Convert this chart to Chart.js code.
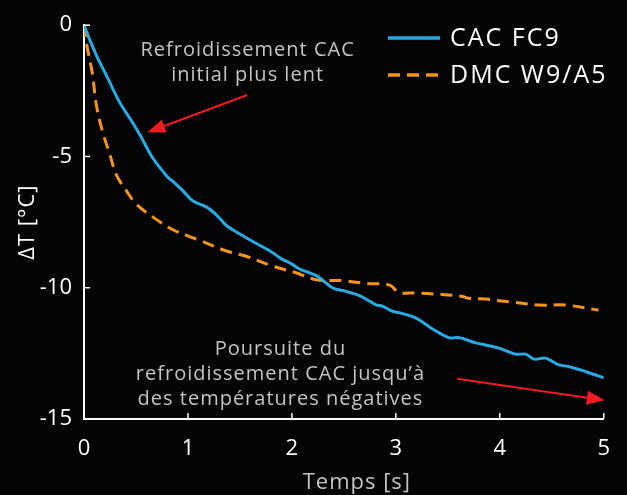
<!DOCTYPE html>
<html>
<head>
<meta charset="utf-8">
<script src="https://cdn.jsdelivr.net/npm/chart.js@4.4.1/dist/chart.umd.min.js"></script>
<style>
  html, body { margin: 0; padding: 0; background: #050508; }
  #wrap { width: 627px; height: 495px; }
</style>
</head>
<body>
<div id="wrap"><canvas id="coolChart" width="627" height="495"></canvas></div>
<script>
// Temps [s] et ΔT [°C]
const cacTime = [0, 0.06, 0.125, 0.22, 0.345, 0.45, 0.54, 0.66, 0.8, 0.855, 0.95, 1.05, 1.18, 1.28, 1.37, 1.5, 1.62, 1.79, 1.9, 2.0, 2.08, 2.24, 2.39, 2.52, 2.65, 2.81, 2.87, 2.97, 3.03, 3.19, 3.35, 3.51, 3.61, 3.77, 3.99, 4.15, 4.25, 4.33, 4.44, 4.57, 4.66, 4.83, 5.0];
const cacDelta = [0, -0.6, -1.2, -1.95, -2.95, -3.6, -4.19, -5.05, -5.76, -5.95, -6.3, -6.7, -6.93, -7.25, -7.63, -7.95, -8.23, -8.6, -8.9, -9.1, -9.3, -9.55, -10.0, -10.14, -10.3, -10.65, -10.7, -10.9, -10.95, -11.15, -11.56, -11.9, -11.9, -12.1, -12.3, -12.53, -12.53, -12.72, -12.68, -12.94, -13.0, -13.2, -13.43];

const dmcTime = [0, 0.03, 0.08, 0.12, 0.18, 0.25, 0.31, 0.41, 0.5, 0.66, 0.86, 1.11, 1.37, 1.56, 1.81, 2.04, 2.24, 2.49, 2.72, 2.94, 3.03, 3.19, 3.42, 3.64, 3.7, 3.87, 3.96, 4.12, 4.38, 4.63, 4.95];
const dmcDelta = [0, -0.82, -1.83, -3.07, -4.08, -4.94, -5.69, -6.32, -6.8, -7.3, -7.8, -8.19, -8.6, -8.8, -9.17, -9.43, -9.7, -9.73, -9.84, -9.9, -10.18, -10.2, -10.25, -10.33, -10.4, -10.43, -10.48, -10.55, -10.66, -10.66, -10.85];

const xTicks = [0, 1, 2, 3, 4, 5];
const yTicks = [0, -5, -10, -15];

const seriesNames = ['CAC FC9', 'DMC W9/A5'];
const seriesColors = ['#29abe2', '#f7941d'];

// annotations : texte + flèche, en coordonnées des données (y = ligne de base du 1er texte)
const notes = [
  { lines: ['Refroidissement CAC', 'initial plus lent'], x: 1.574, y: -1.16, arrowFrom: [1.57, -2.66], arrowTo: [0.61, -4.08] },
  { lines: ['Poursuite du', 'refroidissement CAC jusqu\u2019à', 'des températures négatives'], x: 1.89, y: -12.57, arrowFrom: [3.59, -13.47], arrowTo: [5.01, -14.29] }
];

const FONT = '"Open Sans", "Noto Sans", sans-serif';

function toPoints(xs, ys) {
  return xs.map((x, i) => ({ x: x, y: ys[i] }));
}

const overlay = {
  id: 'overlay',
  afterDraw(chart) {
    const ctx = chart.ctx;
    const xs = chart.scales.x;
    const ys = chart.scales.y;
    const area = chart.chartArea;

    // ticks vers l'intérieur
    ctx.save();
    ctx.strokeStyle = '#ffffff';
    ctx.lineWidth = 1.5;
    xTicks.forEach(t => {
      if (t === 0) return;
      const px = xs.getPixelForValue(t);
      ctx.beginPath();
      ctx.moveTo(px, area.bottom);
      ctx.lineTo(px, area.bottom - 6);
      ctx.stroke();
    });
    yTicks.forEach(t => {
      const py = ys.getPixelForValue(t);
      ctx.beginPath();
      ctx.moveTo(area.left, py);
      ctx.lineTo(area.left + 6, py);
      ctx.stroke();
    });
    ctx.restore();

    // titres des axes
    ctx.save();
    ctx.letterSpacing = '1px';
    ctx.font = '22px ' + FONT;
    ctx.textAlign = 'center';
    ctx.textBaseline = 'alphabetic';
    ctx.fillStyle = '#c4c4c4';
    ctx.fillText('Temps [s]', (area.left + area.right) / 2 + 13, 489);
    ctx.translate(28, (area.top + area.bottom) / 2);
    ctx.rotate(-Math.PI / 2);
    ctx.textBaseline = 'middle';
    ctx.fillStyle = '#ffffff';
    ctx.fillText('ΔT [°C]', 0, 0);
    ctx.restore();

    // annotations
    ctx.save();
    ctx.letterSpacing = '1px';
    ctx.font = '20px ' + FONT;
    ctx.textAlign = 'center';
    ctx.textBaseline = 'alphabetic';
    notes.forEach(n => {
      const cx = xs.getPixelForValue(n.x);
      const cy = ys.getPixelForValue(n.y);
      ctx.fillStyle = '#c4c4c4';
      n.lines.forEach((line, i) => ctx.fillText(line, cx, cy + i * 25));

      const x1 = xs.getPixelForValue(n.arrowFrom[0]);
      const y1 = ys.getPixelForValue(n.arrowFrom[1]);
      const x2 = xs.getPixelForValue(n.arrowTo[0]);
      const y2 = ys.getPixelForValue(n.arrowTo[1]);
      const ang = Math.atan2(y2 - y1, x2 - x1);
      const head = 18;
      const bx = x2 - head * Math.cos(ang);
      const by = y2 - head * Math.sin(ang);
      ctx.strokeStyle = '#ed1c24';
      ctx.fillStyle = '#ed1c24';
      ctx.lineWidth = 2;
      ctx.beginPath();
      ctx.moveTo(x1, y1);
      ctx.lineTo(bx, by);
      ctx.stroke();
      ctx.beginPath();
      ctx.moveTo(x2, y2);
      ctx.lineTo(bx + 7 * Math.sin(ang), by - 7 * Math.cos(ang));
      ctx.lineTo(bx - 7 * Math.sin(ang), by + 7 * Math.cos(ang));
      ctx.closePath();
      ctx.fill();
    });
    ctx.restore();

    // légende
    ctx.save();
    ctx.letterSpacing = '2px';
    ctx.font = '25px ' + FONT;
    ctx.textAlign = 'left';
    ctx.textBaseline = 'middle';
    chart.data.datasets.forEach((ds, i) => {
      const ly = 38 + i * 37;
      ctx.strokeStyle = ds.borderColor;
      ctx.lineWidth = 3.5;
      ctx.setLineDash(ds.borderDash || []);
      ctx.beginPath();
      ctx.moveTo(388, ly);
      ctx.lineTo(440, ly);
      ctx.stroke();
      ctx.setLineDash([]);
      ctx.fillStyle = '#ffffff';
      ctx.fillText(ds.label, 450, ly + 1);
    });
    ctx.restore();
  }
};

const bgPlugin = {
  id: 'bg',
  beforeDraw(chart) {
    const ctx = chart.ctx;
    ctx.save();
    ctx.fillStyle = '#050508';
    ctx.fillRect(0, 0, chart.width, chart.height);
    ctx.restore();
  }
};

const chartElement = document.getElementById('coolChart');
const coolChart = new Chart(chartElement, {
  type: 'line',
  data: {
    datasets: [{
      label: seriesNames[0],
      data: toPoints(cacTime, cacDelta),
      borderColor: seriesColors[0],
      borderWidth: 3,
      pointRadius: 0,
      tension: 0.35,
      fill: false
    }, {
      label: seriesNames[1],
      data: toPoints(dmcTime, dmcDelta),
      borderColor: seriesColors[1],
      borderWidth: 3,
      borderDash: [12, 7],
      pointRadius: 0,
      tension: 0.35,
      fill: false
    }]
  },
  options: {
    responsive: false,
    animation: false,
    layout: { padding: { top: 18, right: 22, left: 0, bottom: 0 } },
    plugins: {
      legend: { display: false },
      tooltip: { enabled: false }
    },
    scales: {
      x: {
        type: 'linear',
        min: 0,
        max: 5,
        afterFit: s => { s.height = 76; },
        afterBuildTicks: s => { s.ticks = xTicks.map(v => ({ value: v })); },
        grid: { display: false, drawTicks: false },
        border: { display: true, color: '#ffffff', width: 2 },
        ticks: { color: '#ffffff', font: { family: FONT, size: 22 }, padding: 17, maxRotation: 0 },
        title: { display: false }
      },
      y: {
        type: 'linear',
        min: -15,
        max: 0,
        afterFit: s => { s.width = 84; },
        afterBuildTicks: s => { s.ticks = yTicks.map(v => ({ value: v })); },
        grid: { display: false, drawTicks: false },
        border: { display: true, color: '#ffffff', width: 2 },
        ticks: { color: '#ffffff', font: { family: FONT, size: 22 }, padding: 12 },
        title: { display: false }
      }
    }
  },
  plugins: [bgPlugin, overlay]
});
</script>
</body>
</html>
